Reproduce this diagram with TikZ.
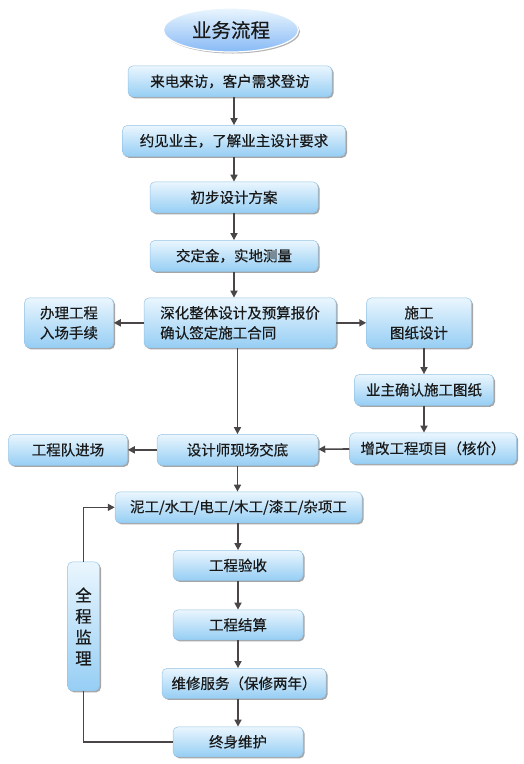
\documentclass[tikz,border=0pt]{standalone}
\usepackage{fontspec}
\usepackage{xcolor}
\usetikzlibrary{arrows.meta, positioning, shapes.geometric, shadows}
\newfontfamily\cjk[FakeBold=0.35]{Noto Sans CJK SC}
\definecolor{boxtop}{RGB}{234,246,254}
\definecolor{boxbot}{RGB}{150,206,244}
\definecolor{boxline}{RGB}{150,196,230}
\definecolor{arrgray}{RGB}{74,70,72}
\definecolor{txtdark}{RGB}{25,25,25}

\begin{document}
\begin{tikzpicture}[
  x=1pt, y=1pt,
  font=\cjk\fontsize{14.5}{20}\selectfont,
  box/.style={rectangle, rounded corners=5pt, draw=boxline, line width=0.5pt,
    top color=boxtop, bottom color=boxbot, text=txtdark,
    drop shadow={shadow xshift=1.5pt, shadow yshift=-1.5pt, opacity=0.35, fill=black},
    minimum width=#1, minimum height=31pt, align=center, inner sep=2pt},
  tallbox/.style={box=#1, minimum height=50pt},
  titlebox/.style={ellipse, draw=white, line width=1.2pt,
    top color=boxtop, bottom color=boxbot!90!blue, text=txtdark,
    drop shadow={shadow xshift=1.5pt, shadow yshift=-1.5pt, opacity=0.3, fill=black},
    minimum width=135pt, minimum height=44pt, font=\cjk\fontsize{19.5}{22}\selectfont},
  arr/.style={-{Triangle[length=7pt, width=7pt]}, draw=arrgray, line width=1.6pt},
  link/.style={draw=arrgray, line width=1.6pt}
]
\useasboundingbox (0,0) rectangle (523,-764);

% main column
\node[titlebox] (title) at (231,-30) {业务流程};
\node[box=204pt, below=13pt of title, xshift=-1pt] (visit) {来电来访，客户需求登访};
\node[box=223pt, below=28pt of visit, xshift=4pt] (meet) {约见业主，了解业主设计要求};
\node[box=168pt, below=25pt of meet] (plan) {初步设计方案};
\node[box=168pt, below=27pt of plan] (deposit) {交定金，实地测量};
\node[tallbox=192pt, below=26pt of deposit, xshift=6pt, align=left] (contract) {深化整体设计及预算报价\\确认签定施工合同};

% side branches
\node[tallbox=89pt, left=30pt of contract] (permit) {办理工程\\入场手续};
\node[tallbox=105pt, right=30pt of contract] (drawing) {施工\\图纸设计};
\node[box=139pt, below=26pt of drawing, xshift=5pt] (confirm) {业主确认施工图纸};
\node[box=167pt, below=27pt of confirm, xshift=9pt] (extra) {增改工程项目（核价）};

% construction
\node[box=161pt, below=86pt of contract, xshift=-2.5pt] (brief) {设计师现场交底};
\node[box=119pt, left=29pt of brief] (team) {工程队进场};
\node[box=247pt, below=26pt of brief, xshift=1pt] (trades) {泥工/水工/电工/木工/漆工/杂项工};
\node[box=130pt, minimum height=30pt, below=27pt of trades, xshift=-0.5pt] (accept) {工程验收};
\node[box=130pt, minimum height=30pt, below=29pt of accept] (settle) {工程结算};
\node[box=164pt, minimum height=30pt, below=28pt of settle, xshift=6pt] (repair) {维修服务（保修两年）};
\node[box=130pt, minimum height=30pt, below=28pt of repair, xshift=-6pt] (care) {终身维护};
\node[box=32pt, minimum height=129pt, left=73pt of settle, yshift=-1.5pt,
  font=\cjk\fontsize{16.5}{21}\selectfont] (supervise) {全\\程\\监\\理};

% connectors
\draw[arr] (meet |- visit.south) -- (meet);
\draw[arr] (meet) -- (plan);
\draw[arr] (plan) -- (deposit);
\draw[arr] (deposit) -- (deposit |- contract.north);
\draw[arr] (contract) -- (permit);
\draw[arr] (contract) -- (drawing);
\draw[arr] (confirm |- drawing.south) -- (confirm);
\draw[arr] (confirm) -- (confirm |- extra.north);
\draw[arr] (extra) -- (brief);
\draw[arr] (brief |- contract.south) -- (brief);
\draw[arr] (brief) -- (team);
\draw[arr] (brief) -- (brief |- trades.north);
\draw[arr] (accept |- trades.south) -- (accept);
\draw[arr] (accept) -- (settle);
\draw[arr] (settle) -- (settle |- repair.north);
\draw[arr] (care |- repair.south) -- (care);
\draw[arr] (supervise.north) |- (trades.west);
\draw[link] (supervise.south) |- (care.west);
\end{tikzpicture}
\end{document}
